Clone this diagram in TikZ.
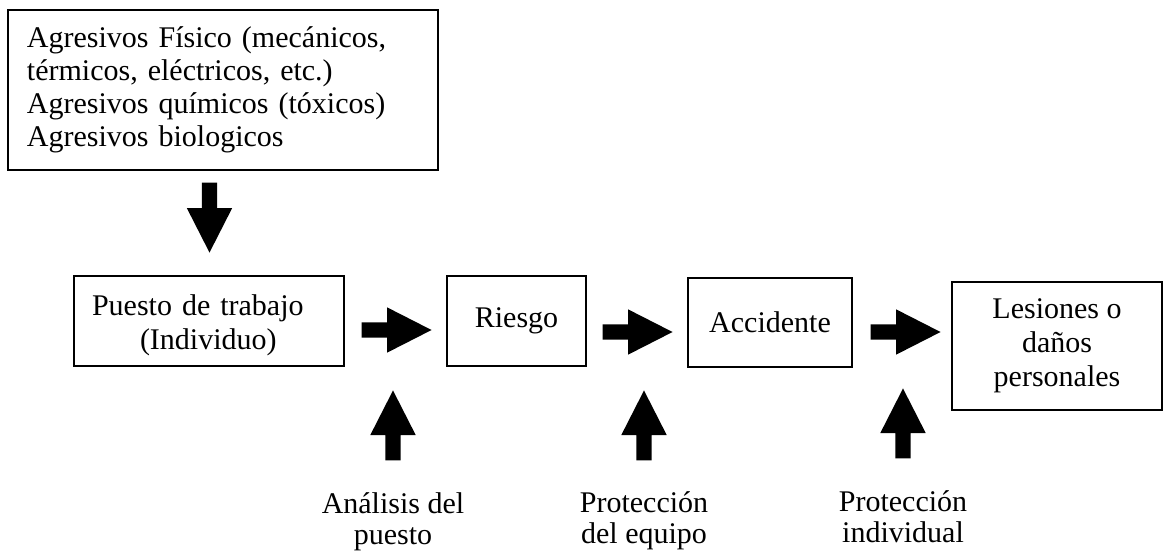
\documentclass[tikz,border=0pt]{standalone}
\usepackage{fontspec}
\setmainfont{Liberation Serif}
\usetikzlibrary{shapes.arrows,positioning}

\begin{document}
\begin{tikzpicture}[x=1pt, y=-1pt,
    every node/.style={font=\fontsize{30}{33}\selectfont},
    caja/.style={draw, line width=1.2pt, inner sep=0pt, align=center},
    flecha/.style={single arrow, fill=black, draw=none, inner sep=7.5pt,
        minimum height=70pt, single arrow head extend=15pt,
        single arrow tip angle=54},
    nota/.style={align=center, inner sep=0pt, anchor=north, font=\fontsize{30}{31}\selectfont}]
            \useasboundingbox (0,0) rectangle (1164,550);

            \node[caja, align=left, text width=392pt, inner xsep=19pt, minimum height=160pt] (agresivos) at (223,90)
                {Agresivos Físico (mecánicos,\\ térmicos, eléctricos, etc.)\\ Agresivos químicos (tóxicos)\\ Agresivos biologicos};
            \node[caja, align=left, text width=234pt, inner xsep=18pt, minimum height=90pt, font=\fontsize{30}{34}\selectfont] (puesto) at (209,321)
                {\rule{0pt}{30pt}Puesto de trabajo\\ \hspace*{48pt}(Individuo)};
            \node[caja, minimum width=139pt, minimum height=90pt] (riesgo) at (516.5,321) {Riesgo};
            \node[caja, minimum width=164pt, minimum height=89pt] (accidente) at (770,322.5) {Accidente};
            \node[caja, minimum width=210pt, minimum height=128pt, font=\fontsize{30}{34}\selectfont] (lesiones) at (1057,346)
                {Lesiones o\\ daños\\ personales};

            \node[flecha, rotate=-90] (f0) at (209.5,210) {};
            \node[flecha] (f1) at (389,330) {};
            \node[flecha] (f2) at (630,332) {};
            \node[flecha] (f3) at (898,332) {};

            \node[flecha, rotate=90] (u1) at (393,433) {};
            \node[flecha, rotate=90] (u2) at (644,433) {};
            \node[flecha, rotate=90] (u3) at (903,431) {};

            \node[nota] (analisis) at (393,492) {Análisis del\\ puesto};
            \node[nota] (equipo) at (644,491) {Protección\\ del equipo};
            \node[nota] (individual) at (903,490) {Protección\\ individual};
        \end{tikzpicture}
\end{document}
